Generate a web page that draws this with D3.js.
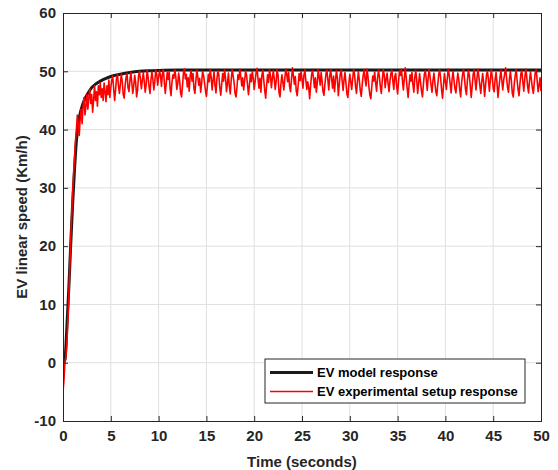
<!DOCTYPE html>
<html><head><meta charset="utf-8">
<script src="https://cdn.jsdelivr.net/npm/d3@7/dist/d3.min.js"></script>
<style>body{margin:0;background:#fff}svg{display:block}text{font-family:"Liberation Sans",Arial,sans-serif;font-weight:bold}</style>
</head><body>
<script>
const xTicks = [0,5,10,15,20,25,30,35,40,45,50];
const yTicks = [-10,0,10,20,30,40,50,60];
const xLabel = "Time (seconds)";
const yLabel = "EV linear speed (Km/h)";
const legendLabels = ["EV model response", "EV experimental setup response"];

// model response (time, speed)
const modelTime = [0,0.2,0.4,0.6,0.8,1.0,1.2,1.4,1.6,1.8,2.0,2.3,2.6,3.0,3.5,4.0,4.5,5.0,6.0,7.0,8.0,9.0,10,12,15,20,30,40,50];
const modelSpeed = [0,0.5,6,12.5,20,27,33,38,41,42.8,44,45.3,46.2,47.2,47.9,48.4,48.8,49.1,49.5,49.8,50.0,50.1,50.15,50.2,50.2,50.2,50.2,50.2,50.2];

// experimental response, sampled every 0.1 s from t = 0
const expStep = 0.1;
const expSpeed = [
-5,-3,0,1,3,7,11,16,21,25,
29,32,35,38,40,42.5,41,39,42,43.5,
41,44,45.5,42.5,44,46,43.5,45.5,47,44.5,
46,43,45,47.5,45,46.5,44,47.5,46,48,
45.5,47,45,48,46.5,44.8,47.5,46,48.5,45.5,
47.2,48.5,49.2,47,45,46.8,48.9,49.4,47.5,46.2,
47.8,49.5,48.2,46,45.4,47.6,49,49.6,47.2,46.5,
48.4,49.8,48,46.2,47.5,49.3,48.1,45.6,46.8,49.2,
50,48.6,47,48.5,49.8,48.2,46.4,47.8,50.2,49,
47.4,46.2,48.5,49.9,48.6,46.8,48.2,50.3,49.5,47.6,
48.9,50.1,49.2,47.4,49.6,50.3,48.1,46.2,47.9,49.8,
48.6,49.9,47.1,45.8,48.2,49.4,48.8,50.2,49.1,46.9,
47.8,49.7,48.4,46.3,45.6,47.5,49.8,50.4,48.7,49.5,
47.3,48.9,46.6,49.2,50.1,48.3,49.6,47,46.2,48.4,
50.2,49.1,47.6,48.8,46.4,47.9,50,49.3,48.1,46.7,
45.7,47.4,49.5,48.2,50.3,49,46.8,48.5,49.9,47.6,
46.3,48.7,50.1,49.4,47.2,45.9,47.8,49.6,48.3,50.2,
48.9,46.5,47.9,49.7,47.4,46.1,48.6,50.3,49.2,48,
46.2,45.6,47.3,49.4,48.6,50.4,49.1,47.5,48.9,46.8,
48.4,50.1,49.3,47.7,46,47.6,49.5,48.2,50,48.8,
46.9,48.3,49.8,50.5,48.7,47.1,48.8,46.4,49.2,50.2,
48.5,46.7,45.4,47.6,49.4,48.1,50.2,49.3,47.2,48.8,
50.1,48.6,46.9,48.4,50.3,49.2,46.3,45.6,47.9,49.4,
48.1,46.8,48.7,50.4,49.5,48.2,49.8,47.4,46.5,48.6,
50.6,49.3,47.8,49.1,46.6,45.8,47.6,49.6,48.4,50,
48.7,47.1,49.3,50.2,48.5,46.9,48.2,47.3,45.3,47.5,
49.4,50.1,48.8,47.2,48.9,46.4,48.1,50.3,49,47.6,
49.8,48.3,46.5,45.9,47.8,49.5,50.2,48.6,46.8,49.1,
50.3,48.7,47.1,49.2,46.5,48.4,50.1,48.9,45.8,47.7,
49.6,50.2,48.4,46.7,48.6,49.8,47.9,46.1,45.5,47.8,
49.5,48.2,46.9,48.7,50.3,49.4,47.4,46.2,48.3,49.9,
48.4,46.6,45.7,47.8,49.3,50.2,48.6,47.5,50.4,49.1,
47.3,45.9,45.3,47.4,49.2,48.3,49.9,48.1,46.6,48.8,
50.2,49,47.3,46.2,48.5,50.3,49.4,47.2,48.6,49.7,
48,46.5,48.3,49.6,50.2,48.4,46.9,49.1,49.6,47.5,
46.1,48.2,50.1,49.3,50.4,48.5,46.8,48.7,50.6,48.9,
47.1,45.5,47.6,49.4,48.3,49.8,47.7,46.4,48.9,50.1,
48.5,46.2,47.9,49.6,48.1,46.6,45.6,47.8,49.5,50.1,
48.6,46.7,48.9,50.3,49,47.6,46.4,48.4,49.7,48,
46.5,45.8,47.7,49.4,50.2,48.9,46.8,45.4,47.6,49.6,
48.2,46.9,48.8,50.4,49.3,47.8,46.3,48.6,50,48.4,
47,46.3,48.2,49.7,48.6,46.8,45.6,48.1,49.5,50.3,
48.7,46.9,46,48.4,50.1,49.4,47.5,45.5,47.4,49.4,
50.2,48.5,46.8,48.7,50.4,49.1,47.6,46.2,48.2,49.6,
48.1,45.7,47.5,49.4,50,48.6,46.6,48.5,50.3,49,
47.1,46.5,48.6,49.8,47.9,45.5,47.2,48.8,50.2,48.5,
46.8,48.5,49.6,50.6,48.8,47.2,46.4,48.7,50,48.3,
46.2,45.6,47.8,49.2,50.3,48.5,46.9,45.8,47.9,49.6,
50.1,48.2,46.6,48.6,50.4,49.2,47.4,46.3,48.4,49.9,
48.5,47.1,46.2,48.1,49.8,50.2,48.4,46.5,47.6,48.9,
46.6
];

const W = 558, H = 470;
const m = {left:63, top:13, right:541, bottom:421};
const svg = d3.select("body").append("svg").attr("width",W).attr("height",H);
const x = d3.scaleLinear().domain([0,50]).range([m.left,m.right]);
const y = d3.scaleLinear().domain([-10,60]).range([m.bottom,m.top]);
const axisCol = "#262626";

// grid
const g = svg.append("g");
g.selectAll(".gx").data(xTicks.slice(1,-1)).join("line")
  .attr("x1",d=>x(d)).attr("x2",d=>x(d)).attr("y1",m.top).attr("y2",m.bottom)
  .attr("stroke","#dfdfdf").attr("stroke-width",1);
g.selectAll(".gy").data(yTicks.slice(1,-1)).join("line")
  .attr("y1",d=>y(d)).attr("y2",d=>y(d)).attr("x1",m.left).attr("x2",m.right)
  .attr("stroke","#dfdfdf").attr("stroke-width",1);

// data lines
const modelData = modelTime.map((t,i)=>[t,modelSpeed[i]]);
const expData = expSpeed.map((v,i)=>[i*expStep,v]);
const clip = svg.append("clipPath").attr("id","c").append("rect")
  .attr("x",m.left).attr("y",m.top).attr("width",m.right-m.left).attr("height",m.bottom-m.top);
const lg = svg.append("g").attr("clip-path","url(#c)");
lg.append("path").datum(modelData)
  .attr("d",d3.line().x(d=>x(d[0])).y(d=>y(d[1])).curve(d3.curveMonotoneX))
  .attr("fill","none").attr("stroke","#1a1a1a").attr("stroke-width",3);
lg.append("path").datum(expData).attr("d",d3.line().x(d=>x(d[0])).y(d=>y(d[1])))
  .attr("fill","none").attr("stroke","#ff0000").attr("stroke-width",1.6)
  .attr("stroke-linejoin","round");

// axes
const tl = 5;
const fmt = d => String(d);
const bottomAxis = d3.axisBottom(x).tickValues(xTicks).tickSize(-tl).tickPadding(9).tickFormat(fmt);
const leftAxis = d3.axisLeft(y).tickValues(yTicks).tickSize(-tl).tickPadding(7).tickFormat(fmt);
const topAxis = d3.axisTop(x).tickValues(xTicks).tickSize(-tl).tickFormat("");
const rightAxis = d3.axisRight(y).tickValues(yTicks).tickSize(-tl).tickFormat("");
function style(sel){
  sel.selectAll("path,line").attr("stroke",axisCol);
  sel.selectAll("text").attr("fill",axisCol).style("font-size","15px").style("font-weight","bold")
    .style("font-family","'Liberation Sans', Arial, sans-serif");
}
svg.append("g").attr("transform",`translate(0,${m.bottom})`).call(bottomAxis).call(style);
svg.append("g").attr("transform",`translate(${m.left},0)`).call(leftAxis).call(style);
svg.append("g").attr("transform",`translate(0,${m.top})`).call(topAxis).call(style);
svg.append("g").attr("transform",`translate(${m.right},0)`).call(rightAxis).call(style);

// labels
svg.append("text").attr("x",(m.left+m.right)/2).attr("y",467).attr("text-anchor","middle")
  .attr("fill",axisCol).style("font-size","15px").text(xLabel);
svg.append("text").attr("transform",`translate(27,${(m.top+m.bottom)/2}) rotate(-90)`)
  .attr("text-anchor","middle").attr("fill",axisCol).style("font-size","15px").text(yLabel);

// legend
const L = {x:265, y:359, w:260, h:44};
const leg = svg.append("g");
leg.append("rect").attr("x",L.x).attr("y",L.y).attr("width",L.w).attr("height",L.h)
  .attr("fill","#fff").attr("stroke",axisCol).attr("stroke-width",1);
const legCols = ["#1a1a1a","#ff0000"], legW = [3,1.6];
legendLabels.forEach((lab,i)=>{
  const yy = L.y + 13.5 + i*19;
  leg.append("line").attr("x1",270).attr("x2",313).attr("y1",yy).attr("y2",yy)
    .attr("stroke",legCols[i]).attr("stroke-width",legW[i]);
  leg.append("text").attr("x",317).attr("y",yy+4.5).attr("fill","#000")
    .style("font-size","13px").text(lab);
});
</script>
</body></html>
